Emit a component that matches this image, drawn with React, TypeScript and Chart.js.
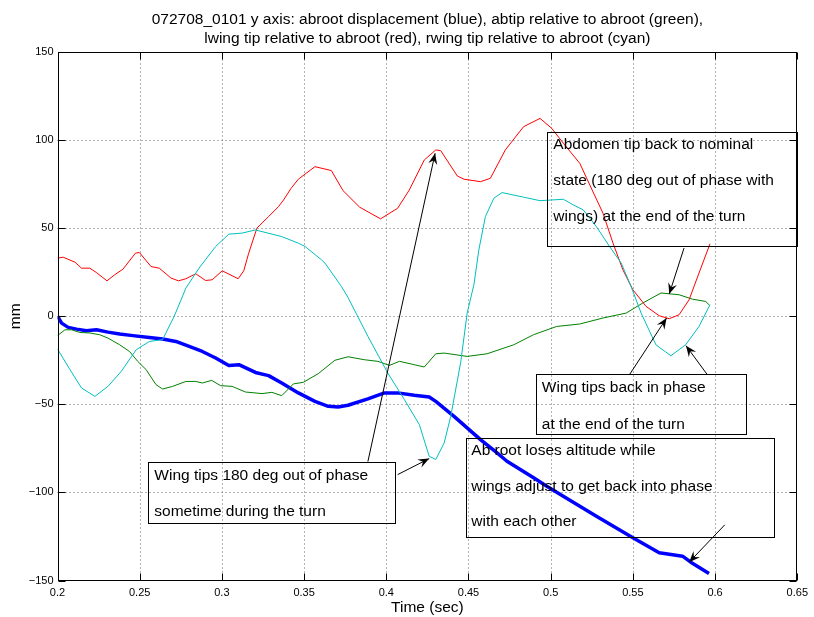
import { useEffect, useRef } from 'react';
import { Chart, registerables } from 'chart.js';

Chart.register(...registerables);

// ---------- data (time in s, displacement in mm) ----------
const abrootTime = [0.2, 0.2025, 0.2065, 0.2116, 0.2176, 0.2237, 0.2307, 0.2378, 0.2458, 0.2559, 0.2639, 0.272, 0.2801, 0.2881, 0.2962, 0.3042, 0.3103, 0.3204, 0.3284, 0.3364, 0.3465, 0.3566, 0.3647, 0.3707, 0.3767, 0.3888, 0.3989, 0.4069, 0.417, 0.4261, 0.4301, 0.4412, 0.4573, 0.4674, 0.4734, 0.4896, 0.4976, 0.5278, 0.55, 0.566, 0.5802, 0.5852, 0.5963];
const abrootMm = [0, -3.9, -6.3, -7.3, -8.2, -7.7, -9, -10.1, -11, -12, -12.9, -14.3, -17.1, -20, -23.7, -27.9, -27.5, -31.9, -33.7, -37.9, -43.5, -48.3, -51.1, -51.5, -50.5, -46.9, -43.5, -43.5, -44.9, -45.8, -48.3, -56.8, -70, -77.6, -82.3, -91.7, -96.5, -113.5, -125.7, -134.2, -136.2, -139.6, -146];

const abtipTime = [0.2, 0.2045, 0.2086, 0.2136, 0.2196, 0.2257, 0.2307, 0.2378, 0.2438, 0.2488, 0.2539, 0.2599, 0.2639, 0.27, 0.2781, 0.2841, 0.2881, 0.2938, 0.2992, 0.3062, 0.3143, 0.3244, 0.3304, 0.3364, 0.3435, 0.3495, 0.3586, 0.3687, 0.3767, 0.3868, 0.3949, 0.4019, 0.408, 0.417, 0.4231, 0.4301, 0.4352, 0.4492, 0.4613, 0.4775, 0.4895, 0.5036, 0.5177, 0.5318, 0.5459, 0.556, 0.5671, 0.5781, 0.5862, 0.5943, 0.5969];
const abtipMm = [-11, -7.7, -7.7, -9.2, -9.5, -10.5, -12.4, -16.2, -20, -25.6, -30.3, -38.8, -41.3, -39.8, -37, -37, -37.9, -36.4, -39.4, -39.8, -43, -43.9, -43.2, -45.1, -38.4, -37.5, -32.6, -25, -23, -24.7, -25.6, -27.9, -25.6, -27.5, -28.8, -21.3, -20.9, -22.8, -21.3, -16.2, -10.5, -5.8, -4.4, -1, 1.8, 7.5, 13.2, 12.2, 9.7, 8.4, 6];

const lwingTime = [0.2, 0.2035, 0.2106, 0.2146, 0.2196, 0.2237, 0.2301, 0.2347, 0.2398, 0.2474, 0.2498, 0.2569, 0.2619, 0.269, 0.2736, 0.2781, 0.2841, 0.2901, 0.2941, 0.3002, 0.3099, 0.3133, 0.3163, 0.3213, 0.3284, 0.3344, 0.3375, 0.342, 0.3465, 0.3566, 0.3666, 0.3737, 0.3838, 0.3965, 0.4069, 0.414, 0.4231, 0.4301, 0.4331, 0.4432, 0.4473, 0.4573, 0.4633, 0.4724, 0.4835, 0.4935, 0.5006, 0.5077, 0.5177, 0.5238, 0.5318, 0.5379, 0.5439, 0.55, 0.558, 0.566, 0.5721, 0.5781, 0.5842, 0.5902, 0.5969];
const lwingMm = [33, 33.5, 30.7, 27.3, 27.3, 24.8, 20.1, 23.5, 26.7, 35.8, 36.2, 28.2, 27.3, 21.7, 20.1, 21.3, 24.1, 20.3, 20.7, 25.8, 21.3, 25.8, 35.8, 50, 56.6, 62.2, 66, 72.5, 77.8, 84.9, 82.7, 71.3, 61.9, 55.3, 61.3, 71.7, 88.7, 94.4, 94, 79.6, 77.8, 76.4, 78.3, 94.4, 107.6, 112.3, 106.7, 98.2, 86.8, 74.5, 58.5, 41.5, 26.4, 15, 5.6, 0.3, -1.4, 0.85, 9.4, 24.5, 41.1];

const rwingTime = [0.2, 0.2076, 0.2146, 0.2227, 0.2307, 0.2388, 0.2479, 0.2559, 0.2639, 0.271, 0.2781, 0.2861, 0.2962, 0.3042, 0.3123, 0.3204, 0.3364, 0.3465, 0.3506, 0.3606, 0.3627, 0.3727, 0.3767, 0.3888, 0.4009, 0.411, 0.4201, 0.4261, 0.4301, 0.4352, 0.4392, 0.4452, 0.4492, 0.4533, 0.4563, 0.4603, 0.4654, 0.4704, 0.4835, 0.4935, 0.5077, 0.5137, 0.5198, 0.5278, 0.5358, 0.5429, 0.5489, 0.555, 0.564, 0.5731, 0.5821, 0.5902, 0.5969];
const rwingMm = [-18.6, -30.3, -40.7, -45.5, -39.8, -31.3, -19, -14.3, -13.3, 0, 16, 27.3, 39.6, 46.6, 47.2, 49, 45.2, 41.5, 39.6, 32, 30.2, 16.9, 10.7, -11.4, -32.2, -47.3, -61.5, -79.5, -81.3, -71.9, -56.8, -26.5, 1.8, 18, 37.7, 56.6, 67, 70.2, 67.6, 65.6, 66.4, 63.2, 60.4, 50.9, 39.6, 30.2, 16.9, 1.8, -16.2, -22.4, -16.2, -5.8, 6.5];

const xTicks = [0.2, 0.25, 0.3, 0.35, 0.4, 0.45, 0.5, 0.55, 0.6, 0.65];
const xTickLabels = ['0.2', '0.25', '0.3', '0.35', '0.4', '0.45', '0.5', '0.55', '0.6', '0.65'];
const yTicks = [-150, -100, -50, 0, 50, 100, 150];
const yTickLabels = ['\u2212150', '\u2212100', '\u221250', '0', '50', '100', '150'];

const titleLines = [
  '072708_0101 y axis: abroot displacement (blue), abtip relative to abroot (green),',
  'lwing tip relative to abroot (red), rwing tip relative to abroot (cyan)',
];
const xTitle = 'Time (sec)';
const yTitle = 'mm';

// ---------- annotations (data coordinates) ----------
const noteBoxes = [
  { x0: 0.498, y0: 104.4, x1: 0.6498, y1: 40, tx: 0.5016, ly: [97.2, 76.8, 56.4],
    lines: ['Abdomen tip back to nominal', 'state (180 deg out of phase with', 'wings) at the end of the turn'] },
  { x0: 0.4911, y0: -32.8, x1: 0.6189, y1: -66.6, tx: 0.4946, ly: [-40.7, -61.5],
    lines: ['Wing tips back in phase', 'at the end of the turn'] },
  { x0: 0.4482, y0: -68.9, x1: 0.6361, y1: -125.4, tx: 0.4517, ly: [-76.2, -96.5, -116.9],
    lines: ['Ab root loses altitude while', 'wings adjust to get back into phase', 'with each other'] },
  { x0: 0.2549, y0: -82.9, x1: 0.4053, y1: -117.6, tx: 0.2589, ly: [-90.4, -110.7],
    lines: ['Wing tips 180 deg out of phase', 'sometime during the turn'] },
];
const noteArrows = [
  { x0: 0.3888, y0: -82.5, x1: 0.4297, y1: 92.5 },
  { x0: 0.4069, y0: -89.9, x1: 0.4261, y1: -80.8 },
  { x0: 0.5811, y0: 38.7, x1: 0.5721, y1: 12.6 },
  { x0: 0.5479, y0: -33.2, x1: 0.5705, y1: -1 },
  { x0: 0.5953, y0: -33.2, x1: 0.5823, y1: -16.7 },
  { x0: 0.6059, y0: -118.4, x1: 0.5842, y1: -139.6 },
];

const FONT = "'Liberation Sans', Arial, Helvetica, sans-serif";
const TEXT_SIZE = 15.5;

const zip = (xs: number[], ys: number[]) => xs.map((x, i) => ({ x, y: ys[i] }));

const gridPlugin = {
  id: 'dottedGrid',
  beforeDatasetsDraw(chart: any) {
    const { ctx, chartArea: a, scales } = chart;
    ctx.save();
    ctx.strokeStyle = '#666';
    ctx.lineWidth = 1;
    ctx.setLineDash([1, 3]);
    ctx.beginPath();
    for (const v of xTicks.slice(1, -1)) {
      const p = Math.round(scales.x.getPixelForValue(v)) + 0.5;
      ctx.moveTo(p, a.bottom); ctx.lineTo(p, a.top);
    }
    for (const v of yTicks.slice(1, -1)) {
      const p = Math.round(scales.y.getPixelForValue(v)) + 0.5;
      ctx.moveTo(a.left, p); ctx.lineTo(a.right, p);
    }
    ctx.stroke();
    ctx.restore();
  },
};

const framePlugin = {
  id: 'matlabFrame',
  afterDatasetsDraw(chart: any) {
    const { ctx, chartArea: a, scales } = chart;
    ctx.save();
    ctx.strokeStyle = '#000';
    ctx.lineWidth = 1;
    const L = Math.round(a.left) + 0.5, R = Math.round(a.right) - 0.5;
    const T = Math.round(a.top) + 0.5, B = Math.round(a.bottom) - 0.5;
    ctx.strokeRect(L, T, R - L, B - T);
    const tl = 7;
    ctx.beginPath();
    for (const v of xTicks) {
      const p = Math.round(scales.x.getPixelForValue(v)) + 0.5;
      ctx.moveTo(p, B); ctx.lineTo(p, B - tl);
      ctx.moveTo(p, T); ctx.lineTo(p, T + tl);
    }
    for (const v of yTicks) {
      const p = Math.round(scales.y.getPixelForValue(v)) + 0.5;
      ctx.moveTo(L, p); ctx.lineTo(L + tl, p);
      ctx.moveTo(R, p); ctx.lineTo(R - tl, p);
    }
    ctx.stroke();
    ctx.restore();
  },
};

function drawArrow(ctx: CanvasRenderingContext2D, x0: number, y0: number, x1: number, y1: number) {
  ctx.beginPath();
  ctx.moveTo(x0, y0);
  ctx.lineTo(x1, y1);
  ctx.stroke();
  const ang = Math.atan2(y1 - y0, x1 - x0);
  const c = Math.cos(ang), s = Math.sin(ang);
  const L = 11, W = 4.5, N = 7;
  ctx.beginPath();
  ctx.moveTo(x1, y1);
  ctx.lineTo(x1 - L * c - W * s, y1 - L * s + W * c);
  ctx.lineTo(x1 - N * c, y1 - N * s);
  ctx.lineTo(x1 - L * c + W * s, y1 - L * s - W * c);
  ctx.closePath();
  ctx.fill();
}

const notesPlugin = {
  id: 'notes',
  afterDraw(chart: any) {
    const { ctx, scales } = chart;
    const px = (v: number) => scales.x.getPixelForValue(v);
    const py = (v: number) => scales.y.getPixelForValue(v);
    ctx.save();
    ctx.fillStyle = '#000';
    ctx.font = `${TEXT_SIZE}px ${FONT}`;
    ctx.textAlign = 'center';
    ctx.textBaseline = 'middle';
    const cx = (chart.chartArea.left + chart.chartArea.right) / 2;
    ctx.fillText(titleLines[0], cx, 19.5);
    ctx.fillText(titleLines[1], cx, 38.5);
    ctx.strokeStyle = '#000';
    ctx.lineWidth = 1;
    ctx.textAlign = 'left';
    for (const b of noteBoxes) {
      const l = Math.round(px(b.x0)) + 0.5, r = Math.round(px(b.x1)) + 0.5;
      const t = Math.round(py(b.y0)) + 0.5, bt = Math.round(py(b.y1)) + 0.5;
      ctx.strokeRect(l, t, r - l, bt - t);
      b.lines.forEach((line, i) => ctx.fillText(line, px(b.tx), py(b.ly[i])));
    }
    for (const a of noteArrows) {
      drawArrow(ctx, px(a.x0), py(a.y0), px(a.x1), py(a.y1));
    }
    ctx.restore();
  },
};

export default function App() {
  const ref = useRef<HTMLCanvasElement | null>(null);
  useEffect(() => {
    if (!ref.current) return;
    Chart.defaults.font.family = FONT;
    Chart.defaults.color = '#000';
    const chart = new Chart(ref.current, {
      type: 'line',
      data: {
        datasets: [
          { label: 'abroot', data: zip(abrootTime, abrootMm), borderColor: '#0000ff', borderWidth: 3.5, order: 4 },
          { label: 'abtip', data: zip(abtipTime, abtipMm), borderColor: '#008000', borderWidth: 1, order: 3 },
          { label: 'lwing', data: zip(lwingTime, lwingMm), borderColor: '#ff0000', borderWidth: 1, order: 2 },
          { label: 'rwing', data: zip(rwingTime, rwingMm), borderColor: '#00bfbf', borderWidth: 1, order: 1 },
        ].map((d) => ({ ...d, pointRadius: 0, tension: 0, fill: false, borderJoinStyle: 'round' as const })),
      },
      options: {
        animation: false,
        responsive: false,
        devicePixelRatio: 1,
        layout: { padding: { left: 0, top: 52, right: 11.5, bottom: 0 } },
        plugins: { legend: { display: false }, tooltip: { enabled: false }, title: { display: false } },
        scales: {
          x: {
            type: 'linear',
            min: 0.2,
            max: 0.65,
            afterBuildTicks: (s: any) => { s.ticks = xTicks.map((v) => ({ value: v })); },
            afterFit: (s: any) => { s.height = 36.5; },
            ticks: {
              font: { size: 11 },
              padding: 6,
              maxRotation: 0,
              autoSkip: false,
              callback: (v: any) => { const i = xTicks.findIndex((t) => Math.abs(t - v) < 1e-9); return i >= 0 ? xTickLabels[i] : ''; },
            },
            grid: { display: false, drawTicks: false },
            border: { display: false },
            title: { display: true, text: xTitle, font: { size: TEXT_SIZE }, padding: { top: 0, bottom: 0 } },
          },
          y: {
            type: 'linear',
            min: -150,
            max: 150,
            afterBuildTicks: (s: any) => { s.ticks = yTicks.map((v) => ({ value: v })); },
            afterFit: (s: any) => { s.width = 57.5; },
            ticks: {
              font: { size: 11 },
              padding: 4,
              autoSkip: false,
              callback: (v: any) => { const i = yTicks.indexOf(v); return i >= 0 ? yTickLabels[i] : ''; },
            },
            grid: { display: false, drawTicks: false },
            border: { display: false },
            title: { display: true, text: yTitle, font: { size: TEXT_SIZE }, padding: { top: 6, bottom: 0 } },
          },
        },
      } as any,
      plugins: [gridPlugin, framePlugin, notesPlugin],
    });
    return () => chart.destroy();
  }, []);
  return (
    <div style={{ position: 'fixed', left: 0, top: 0, width: 814, height: 617, background: '#fff' }}>
      <canvas ref={ref} width={814} height={617} style={{ width: 814, height: 617, display: 'block' }} />
    </div>
  );
}
